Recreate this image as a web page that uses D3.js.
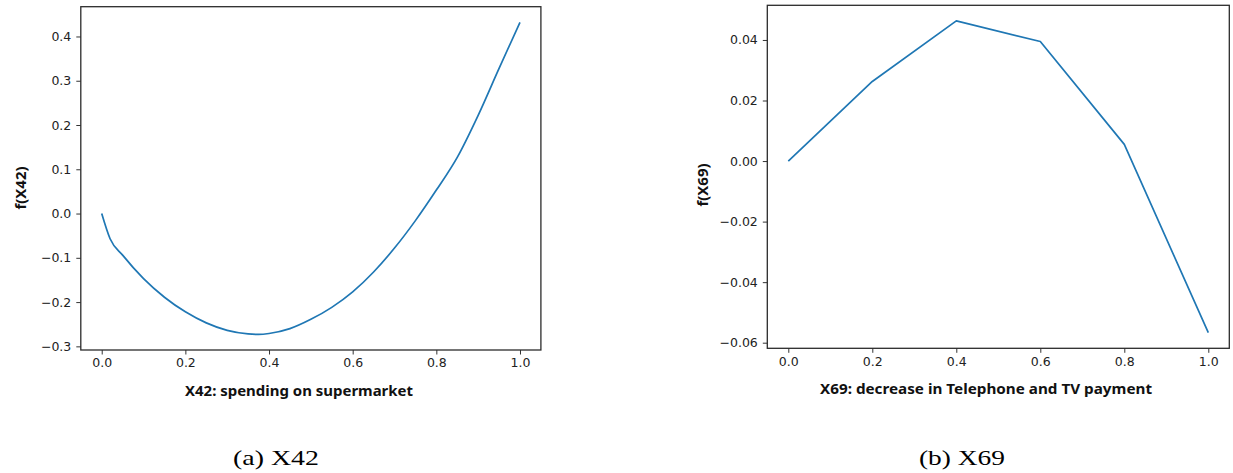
<!DOCTYPE html>
<html>
<head>
<meta charset="utf-8">
<script src="https://cdn.jsdelivr.net/npm/d3@7"></script>
<style>
  html, body { margin: 0; padding: 0; background: #fff; }
  svg { display: block; }
  .tick text { font-family: "DejaVu Sans", sans-serif; font-size: 12.5px; fill: #222; }
  .axlabel { font-family: "Noto Sans", "Open Sans", sans-serif; font-weight: 700; font-size: 15px; fill: #111; }
  .caption { font-family: "Liberation Serif", "DejaVu Serif", serif; font-size: 22px; fill: #000; }
</style>
</head>
<body>
<svg id="fig" width="1233" height="473"></svg>
<script>
// Partial dependence of f(X42) on supermarket spending
const x42 = [0, 0.02, 0.05, 0.10, 0.15, 0.20, 0.25, 0.30, 0.35, 0.375, 0.40, 0.45, 0.50, 0.55, 0.60, 0.65, 0.70, 0.75, 0.80, 0.85, 0.90, 0.95, 1.00];
const f42 = [0, -0.057, -0.094, -0.147, -0.189, -0.222, -0.247, -0.264, -0.272, -0.273, -0.271, -0.260, -0.239, -0.212, -0.177, -0.132, -0.078, -0.016, 0.053, 0.127, 0.222, 0.328, 0.432];

// Partial dependence of f(X69) on the decrease in telephone and TV payment
const x69 = [0, 0.2, 0.4, 0.6, 0.8, 1.0];
const f69 = [0, 0.0263, 0.0463, 0.0395, 0.0055, -0.0567];

const xTicks = [0, 0.2, 0.4, 0.6, 0.8, 1.0];
const yTicks42 = [-0.3, -0.2, -0.1, 0.0, 0.1, 0.2, 0.3, 0.4];
const yTicks69 = [-0.06, -0.04, -0.02, 0.00, 0.02, 0.04];

const panels = [
  { xs: x42, ys: f42, yTicks: yTicks42, yFmt: ".1f", curve: d3.curveMonotoneX,
    box: { left: 80.8, right: 540.9, top: 6.7, bottom: 350 },
    ylabel: "f(X42)", ylabelPos: [21, 188],
    xlabel: "X42: spending on supermarket", xlabelPos: [299, 396], xlabelLen: 228,
    caption: "(a) X42", captionX: 233 },
  { xs: x69, ys: f69, yTicks: yTicks69, yFmt: ".2f", curve: d3.curveLinear,
    box: { left: 767.3, right: 1229.3, top: 5.3, bottom: 348.3 },
    ylabel: "f(X69)", ylabelPos: [703, 185],
    xlabel: "X69: decrease in Telephone and TV payment", xlabelPos: [986, 394], xlabelLen: 332,
    caption: "(b) X69", captionX: 919 }
];

const svg = d3.select("#fig");
const minus = s => s.replace("-", "\u2212");

// matplotlib-style 5% data margins
function padded(ext) {
  const m = (ext[1] - ext[0]) * 0.05;
  return [ext[0] - m, ext[1] + m];
}

panels.forEach(p => {
  const b = p.box;
  const x = d3.scaleLinear().domain(padded(d3.extent(p.xs))).range([b.left, b.right]);
  const y = d3.scaleLinear().domain(padded(d3.extent(p.ys))).range([b.bottom, b.top]);
  const pts = p.xs.map((v, i) => [v, p.ys[i]]);

  svg.append("path")
    .datum(pts)
    .attr("fill", "none")
    .attr("stroke", "#1f77b4")
    .attr("stroke-width", 1.7)
    .attr("stroke-linejoin", "round")
    .attr("d", d3.line().curve(p.curve).x(d => x(d[0])).y(d => y(d[1])));

  const xAxis = svg.append("g")
    .attr("transform", `translate(0,${b.bottom})`)
    .call(d3.axisBottom(x).tickValues(xTicks).tickFormat(d3.format(".1f")).tickSize(4.5).tickPadding(4));
  const yAxis = svg.append("g")
    .attr("transform", `translate(${b.left},0)`)
    .call(d3.axisLeft(y).tickValues(p.yTicks).tickFormat(d => minus(d3.format(p.yFmt)(d))).tickSize(4.5).tickPadding(5));
  [xAxis, yAxis].forEach(g => {
    g.select(".domain").remove();
    g.selectAll(".tick line").attr("stroke", "#333").attr("stroke-width", 1);
  });

  // axes frame
  svg.append("rect")
    .attr("x", b.left).attr("y", b.top)
    .attr("width", b.right - b.left).attr("height", b.bottom - b.top)
    .attr("fill", "none").attr("stroke", "#2b2b2b").attr("stroke-width", 1.3);

  svg.append("text")
    .attr("class", "axlabel")
    .attr("text-anchor", "middle")
    .attr("transform", `translate(${p.ylabelPos[0] + 5},${p.ylabelPos[1]}) rotate(-90)`)
    .text(p.ylabel);

  svg.append("text")
    .attr("class", "axlabel")
    .attr("text-anchor", "middle")
    .attr("x", p.xlabelPos[0]).attr("y", p.xlabelPos[1])
    .attr("textLength", p.xlabelLen).attr("lengthAdjust", "spacingAndGlyphs")
    .text(p.xlabel);

  svg.append("text")
    .attr("class", "caption")
    .attr("x", p.captionX).attr("y", 465)
    .attr("textLength", 86).attr("lengthAdjust", "spacingAndGlyphs")
    .text(p.caption);
});
</script>
</body>
</html>
